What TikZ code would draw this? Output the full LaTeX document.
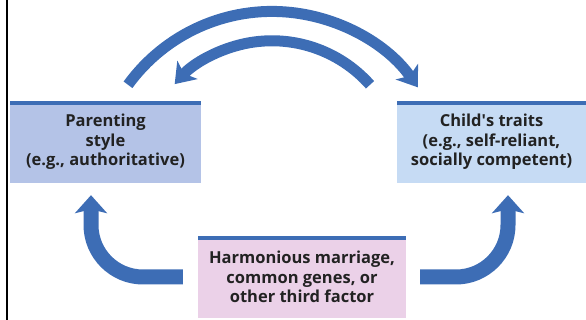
\documentclass[tikz,border=0pt]{standalone}
\usepackage{fontspec}
\setmainfont{Open Sans}
\usepackage{tikz}
\usetikzlibrary{arrows.meta}

\definecolor{flowblue}{HTML}{3D6DB5}
\definecolor{parentfill}{HTML}{B4C3E7}
\definecolor{childfill}{HTML}{C6DBF4}
\definecolor{factorfill}{HTML}{EBD1E8}
\definecolor{labeltext}{HTML}{222222}

\tikzset{
  box/.style = {minimum height=82pt, inner sep=0pt, align=center,
    text=labeltext, font=\bfseries\fontsize{16.5}{19.5}\selectfont,
    path picture={\fill[flowblue] (path picture bounding box.north west)
      rectangle ([yshift=-4pt]path picture bounding box.north east);}},
  toparrow/.style = {flowblue, line width=11pt,
    -{Stealth[length=19pt, width=27pt, inset=5pt]}},
  sidearrow/.style = {flowblue, line width=15pt, rounded corners=52pt,
    -{Stealth[length=18pt, width=32pt, inset=4pt]}}
}

\begin{document}
\begin{tikzpicture}[x=1pt, y=1pt]
  \useasboundingbox (0,0) rectangle (586,320);
  \draw[line width=2pt] (7,0) -- (7,320);

  \node[box, fill=parentfill, minimum width=191pt] (parenting) at (105.5,178)
  {Parenting\\style\\(e.g., authoritative)};
  \node[box, fill=childfill, minimum width=189pt] (child) at (491.5,178)
  {Child\textquotesingle s traits\\(e.g., self-reliant,\\socially competent)};
  \node[box, fill=factorfill, minimum width=208pt] (factor) at (302,43)
  {Harmonious marriage,\\common genes, or\\other third factor};

  \draw[toparrow] ([shift={(22.5pt,16pt)}]parenting.north)
  arc[start angle=144, end angle=35, radius=178pt];
  \draw[toparrow] ([shift={(-121.5pt,16pt)}]child.north)
  arc[start angle=41.6, end angle=138, radius=131pt];

  \draw[sidearrow] ([xshift=-15pt]factor.west)
  -| ([shift={(-14.5pt,-12pt)}]parenting.south);
  \draw[sidearrow] ([xshift=14pt]factor.east)
  -| ([shift={(16.5pt,-12pt)}]child.south);
\end{tikzpicture}
\end{document}
